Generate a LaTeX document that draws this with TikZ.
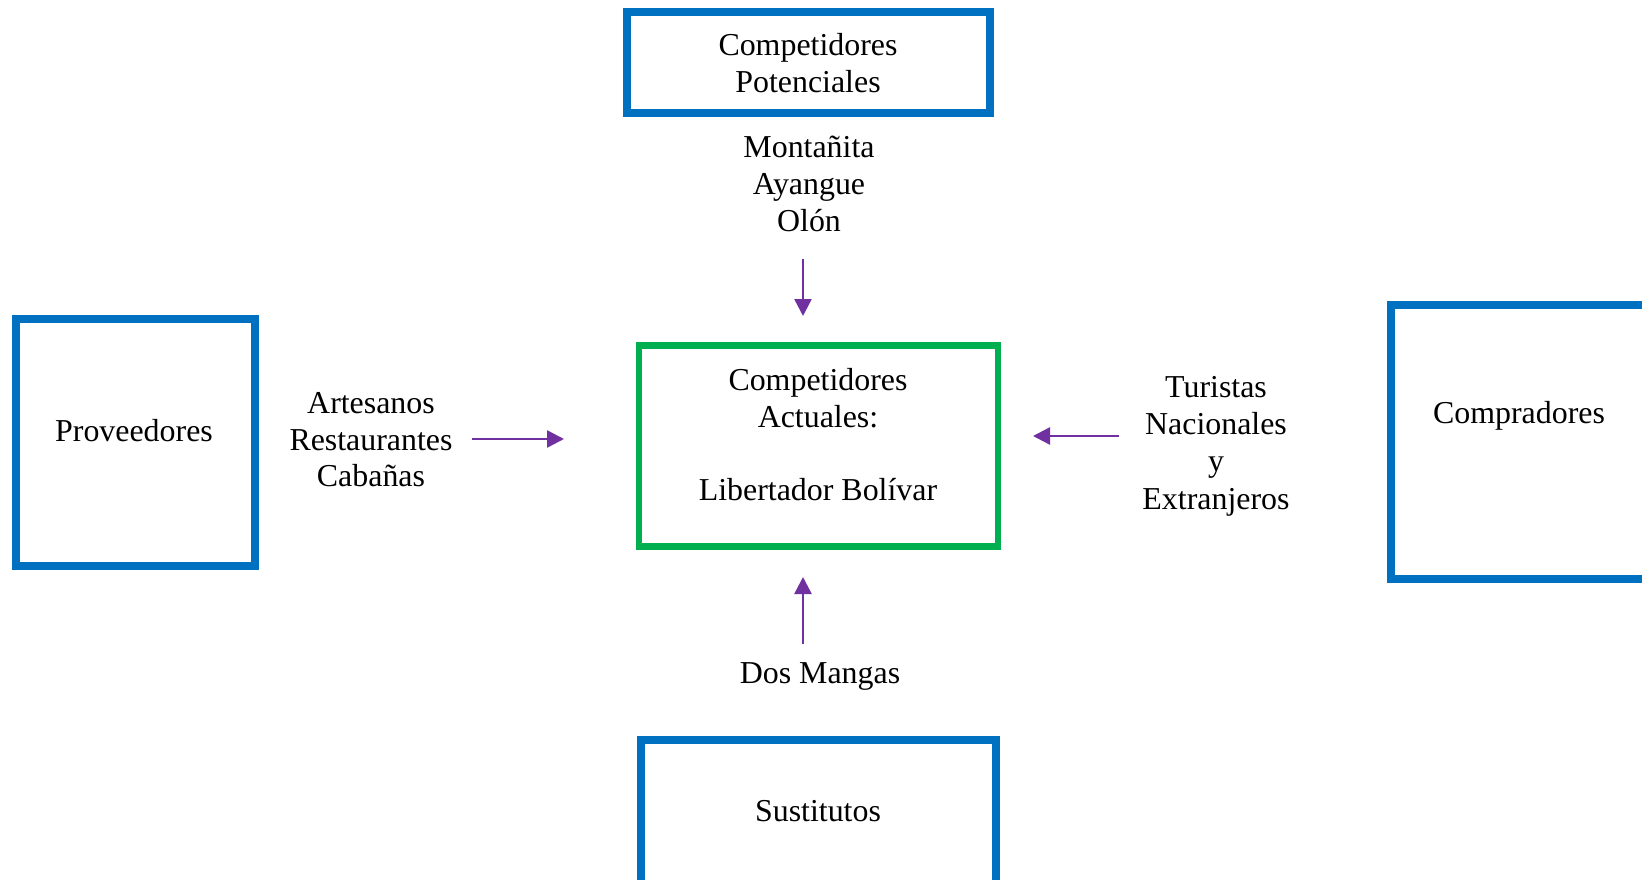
\documentclass[tikz,border=0pt]{standalone}
\usepackage{fontspec}
\setmainfont{Liberation Serif}
\usetikzlibrary{arrows.meta}
\definecolor{pblue}{HTML}{0070C0}
\definecolor{pgreen}{HTML}{00B050}
\definecolor{ppurple}{HTML}{7030A0}
\begin{document}
\begin{tikzpicture}[x=1pt,y=-1pt,
  bluebox/.style={draw=pblue,line width=8pt,rectangle,inner sep=0pt},
  greenbox/.style={draw=pgreen,line width=6.5pt,rectangle,inner sep=0pt},
  lbl/.style={align=center,font=\fontsize{31.9}{36.6}\selectfont,inner sep=0pt},
  arr/.style={draw=ppurple,line width=2.5pt,-{Triangle[length=17pt,width=17pt]}}]
\useasboundingbox[fill=white] (0,0) rectangle (1642,880);
\clip (0,0) rectangle (1642,880);
% boxes
\node[bluebox,minimum width=363pt,minimum height=101pt] (pot) at (808.5,62.5) {};
\node[lbl] (potT) at (808,63) {Competidores\\Potenciales};
\node[bluebox,minimum width=239pt,minimum height=247pt] (prov) at (135.5,442.5) {};
\node[lbl] (provT) at (134,431) {Proveedores};
\node[bluebox,minimum width=280pt,minimum height=274pt] (comp) at (1531,442) {};
\node[lbl] (compT) at (1519,416) {Compradores};
\node[bluebox,minimum width=355pt,minimum height=180pt] (sus) at (818.5,830) {};
\node[lbl] (susT) at (818,811) {Sustitutos};
\node[greenbox,minimum width=359pt,minimum height=201pt] (act) at (818.5,446) {};
\node[lbl] (actT) at (818,434.5) {Competidores\\Actuales:\\[36.6pt]Libertador Bolívar};
% labels
\node[lbl] (top) at (809,184) {Montañita\\Ayangue\\Olón};
\node[lbl] (left) at (371,440) {Artesanos\\Restaurantes\\Cabañas};
\node[lbl,font=\fontsize{31.9}{37.4}\selectfont] (right) at (1216,446) {Turistas\\Nacionales\\y\\Extranjeros};
\node[lbl] (bot) at (820,676) {Dos Mangas};
% arrow ends
\coordinate (a1s) at (803,259); \coordinate (a1e) at (803,316);
\coordinate (a2s) at (472,439); \coordinate (a2e) at (564,439);
\coordinate (a3s) at (1119,436); \coordinate (a3e) at (1033,436);
\coordinate (a4s) at (803,644); \coordinate (a4e) at (803,577);
\draw[arr] (a1s) -- (a1e);
\draw[arr] (a2s) -- (a2e);
\draw[arr] (a3s) -- (a3e);
\draw[arr] (a4s) -- (a4e);
\end{tikzpicture}
\end{document}
